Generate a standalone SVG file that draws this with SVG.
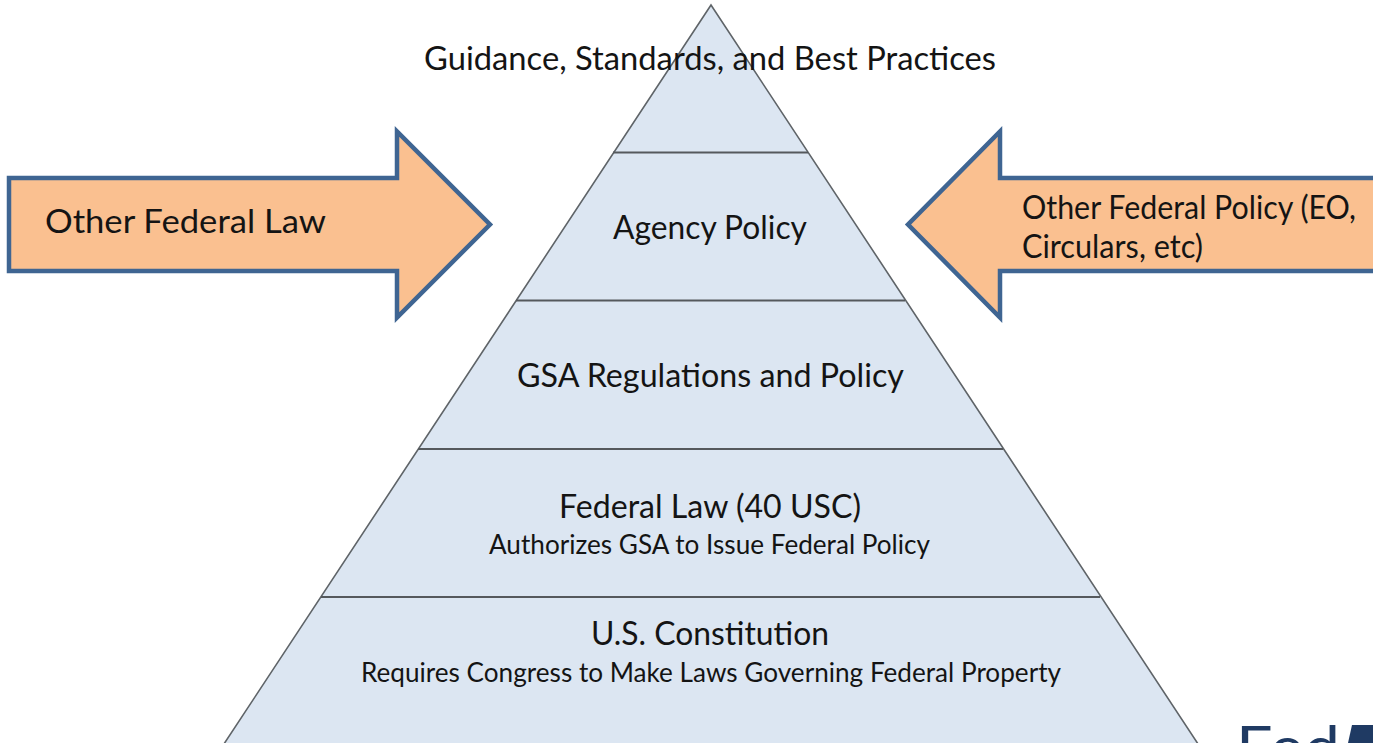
<svg xmlns="http://www.w3.org/2000/svg" width="1373" height="743" viewBox="0 0 1373 743">
<style>
text{font-family:"Lato","Open Sans","Liberation Sans",sans-serif;fill:#141414}
.l{font-size:32px}
.m{font-size:27px}
.a{fill:#fac090;stroke:#3f6592;stroke-width:4.5;stroke-linejoin:miter}
.t{fill:#dce6f2;stroke:#5f6468;stroke-width:1.6}
.d{stroke:#55595d;stroke-width:2;fill:none}
</style>
<rect width="1373" height="743" fill="#fff"/>
<g id="pyramid">
<polygon class="t" points="711,5 218,753 1204,753"/>
<line class="d" x1="613" y1="152.500" x2="808" y2="152.500"/>
<line class="d" x1="516" y1="300.500" x2="905" y2="300.500"/>
<line class="d" x1="418" y1="449" x2="1003" y2="449"/>
<line class="d" x1="321" y1="597" x2="1100" y2="597"/>
</g>
<g id="level-guidance"><text class="l" x="424" y="69.500" textLength="572" lengthAdjust="spacingAndGlyphs">Guidance, Standards, and Best Practices</text></g>
<g id="level-agency"><text class="l" x="613" y="239" textLength="194" lengthAdjust="spacingAndGlyphs">Agency Policy</text></g>
<g id="level-gsa"><text class="l" x="517" y="387" textLength="387" lengthAdjust="spacingAndGlyphs">GSA Regulations and Policy</text></g>
<g id="level-law"><text class="l" x="559" y="518" textLength="302" lengthAdjust="spacingAndGlyphs">Federal Law (40 USC)</text>
<text class="m" x="489" y="554" textLength="441" lengthAdjust="spacingAndGlyphs">Authorizes GSA to Issue Federal Policy</text></g>
<g id="level-constitution"><text class="l" x="591" y="645" textLength="238" lengthAdjust="spacingAndGlyphs">U.S. Constitution</text>
<text class="m" x="361" y="682" textLength="700" lengthAdjust="spacingAndGlyphs">Requires Congress to Make Laws Governing Federal Property</text></g>
<g id="arrow-law"><polygon class="a" points="9,178 397,178 397,131.500 490,224.500 397,317.500 397,271 9,271"/>
<text class="l" x="45" y="233" textLength="281" lengthAdjust="spacingAndGlyphs">Other Federal Law</text></g>
<g id="arrow-policy"><polygon class="a" points="1380,178 1000,178 1000,131.500 908,224.500 1000,317.500 1000,271 1380,271"/>
<text class="l" x="1022" y="218.500" textLength="334" lengthAdjust="spacingAndGlyphs">Other Federal Policy (EO,</text>
<text class="l" x="1022" y="258" textLength="181" lengthAdjust="spacingAndGlyphs">Circulars, etc)</text></g>
<g id="logo">
<text x="1236" y="768" font-size="58" style="fill:#1f3a63" textLength="104" lengthAdjust="spacingAndGlyphs">Fed</text>
<polygon points="1352,725 1373,725 1373,743 1348,743" fill="#1f3a63"/>
</g>
</svg>
